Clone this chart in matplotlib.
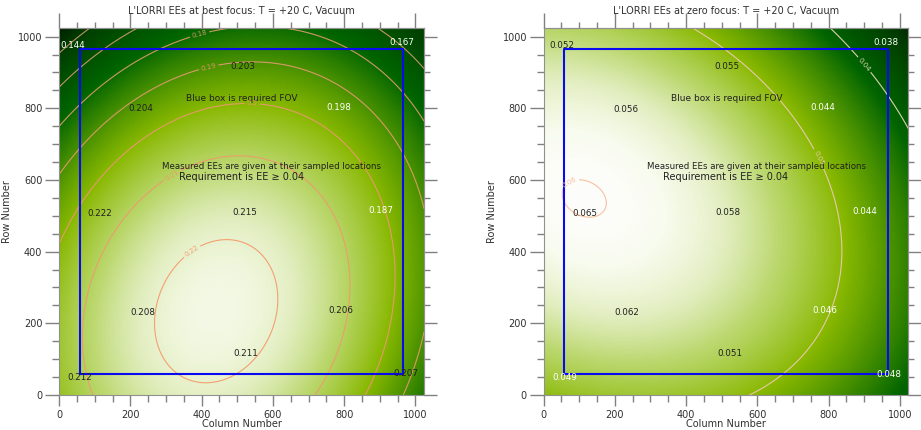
import numpy as np
import matplotlib
matplotlib.use("Agg")
from matplotlib import pyplot as plt
from matplotlib.colors import LinearSegmentedColormap
from matplotlib.ticker import MultipleLocator, NullFormatter

# sampled locations (column, row) and measured EEs
best_col = [38, 963, 515, 229, 786, 115, 520, 904, 235, 791, 523, 59, 972]
best_row = [975, 984, 917, 798, 803, 507, 509, 514, 231, 237, 116, 49, 60]
best_ee = [0.144, 0.167, 0.203, 0.204, 0.198, 0.222, 0.215, 0.187, 0.208, 0.206, 0.211, 0.212, 0.207]

zero_col = [50, 961, 514, 230, 783, 116, 518, 902, 234, 790, 522, 60, 970]
zero_row = [975, 983, 916, 797, 803, 507, 509, 513, 229, 236, 116, 49, 58]
zero_ee = [0.052, 0.038, 0.055, 0.056, 0.044, 0.065, 0.058, 0.044, 0.062, 0.046, 0.051, 0.049, 0.048]

best_plain = [0.15, 0.16, 0.17]
best_labeled = [0.18, 0.19, 0.20, 0.21, 0.22]
zero_plain = []
zero_labeled = [0.04, 0.05, 0.06]

fov = [58, 966]   # required FOV box, pixels
npix = 1024

#=======================================================================================

def quad_fit(col, row, ee, gx, gy):
    # least squares 2nd order surface through the sampled EEs
    c = np.asarray(col, float); r = np.asarray(row, float)
    A = np.column_stack([np.ones_like(c), c, r, c*c, c*r, r*r])
    p, *_ = np.linalg.lstsq(A, np.asarray(ee), rcond=None)
    return p[0] + p[1]*gx + p[2]*gy + p[3]*gx*gx + p[4]*gx*gy + p[5]*gy*gy

cmap = LinearSegmentedColormap.from_list(
    "eegreen", [(0.0, "#000000"), (0.2, "#003c00"), (0.42, "#006400"),
                (0.68, "#88b800"), (0.82, "#bcd870"), (0.90, "#e2eec0"),
                (0.96, "#f8fbee"), (1.0, "#ffffff")])

def lvl_colors(levels, lo, hi):
    cl = LinearSegmentedColormap.from_list("cl", [lo, hi])
    n = len(levels)
    return [cl(i/(n-1) if n > 1 else 1.0) for i in range(n)]

def ticks(a, major, minor, pad=2):
    a.set_major_locator(MultipleLocator(200))
    a.set_minor_locator(MultipleLocator(50))
    a.set_tick_params(which="major", length=major, pad=pad)
    a.set_tick_params(which="minor", length=minor)

def panel(ax, col, row, ee, title, plain, labeled, lab_pos, vmin, vmax,
          white_below, line_lo, line_hi):
    g = np.arange(0, npix+1, 4.0)
    gx, gy = np.meshgrid(g, g)
    field = quad_fit(col, row, ee, gx, gy)
    ax.imshow(field, origin="lower", extent=(0, npix, 0, npix), cmap=cmap,
              vmin=vmin, vmax=vmax, interpolation="bilinear", aspect="auto")
    lc = lvl_colors(plain + labeled, line_lo, line_hi)
    if plain:
        ax.contour(gx, gy, field, levels=plain, colors=lc[:len(plain)], linewidths=0.8)
    cs = ax.contour(gx, gy, field, levels=labeled, colors=lc[len(plain):], linewidths=0.8)
    ax.clabel(cs, fmt=lambda v: f"{v:g}", fontsize=5,
              inline=True, inline_spacing=2, manual=lab_pos)

    ax.plot([fov[0], fov[1], fov[1], fov[0], fov[0]],
            [fov[0], fov[0], fov[1], fov[1], fov[0]], color="#0a0af0", lw=1.5)

    for c, r, v in zip(col, row, ee):
        tc = "white" if v < white_below else "#202020"
        ax.text(c, r, f"{v:.3f}", ha="center", va="center", fontsize=6.3, color=tc)

    ax.text(513, 827, "Blue box is required FOV", ha="center", va="center",
            fontsize=6.5, color="#202020")
    ax.text(597, 638, "Measured EEs are given at their sampled locations",
            ha="center", va="center", fontsize=6.2, color="#202020")
    ax.text(512, 608, "Requirement is EE \u2265 0.04", ha="center", va="center",
            fontsize=7, color="#202020")

    ax.set_xlim(0, npix)
    ax.set_ylim(0, npix)
    ax.tick_params(which="both", direction="out", color="#808080", width=1,
                   labelsize=7, labelcolor="#303030")
    ticks(ax.yaxis, 10, 5, pad=2)
    ticks(ax.xaxis, 8, 5, pad=3)
    for s in ax.spines.values():
        s.set_color("#909090")
        s.set_linewidth(0.8)

    # opposite axes: longer ticks, no labels
    top = ax.secondary_xaxis("top")
    right = ax.secondary_yaxis("right")
    for sec, a in ((top, top.xaxis), (right, right.yaxis)):
        ticks(a, 10.5 if sec is top else 9.5, 4.5)
        a.set_major_formatter(NullFormatter())
        sec.tick_params(which="both", direction="out", color="#808080", width=1)
        for s in sec.spines.values():
            s.set_color("#909090")
            s.set_linewidth(0.8)

    ax.set_xlabel("Column Number", fontsize=7, labelpad=-1, color="#303030")
    ax.set_ylabel("Row Number", fontsize=7, labelpad=4, color="#303030")
    ax.text(0.5, 1.046, title, transform=ax.transAxes, ha="center", va="center",
            fontsize=7, color="#303030")

fig = plt.figure(figsize=(9.21, 4.30), dpi=100)
ax1 = fig.add_axes([0.0641, 0.0814, 0.3963, 0.8535])
ax2 = fig.add_axes([0.5903, 0.0814, 0.3959, 0.8535])

panel(ax1, best_col, best_row, best_ee,
      "L'LORRI EEs at best focus: T = +20 C, Vacuum",
      best_plain, best_labeled,
      [(396, 1000), (421, 909), (541, 808), (318, 611), (373, 401)],
      0.143, 0.227, 0.2, "#b09060", "#f4a070")
panel(ax2, zero_col, zero_row, zero_ee,
      "L'LORRI EEs at zero focus: T = +20 C, Vacuum",
      zero_plain, zero_labeled,
      [(900, 921), (769, 660), (76, 588)],
      0.027, 0.0605, 0.05, "#d8d0b0", "#f8c0a0")

plt.savefig("out.png")
